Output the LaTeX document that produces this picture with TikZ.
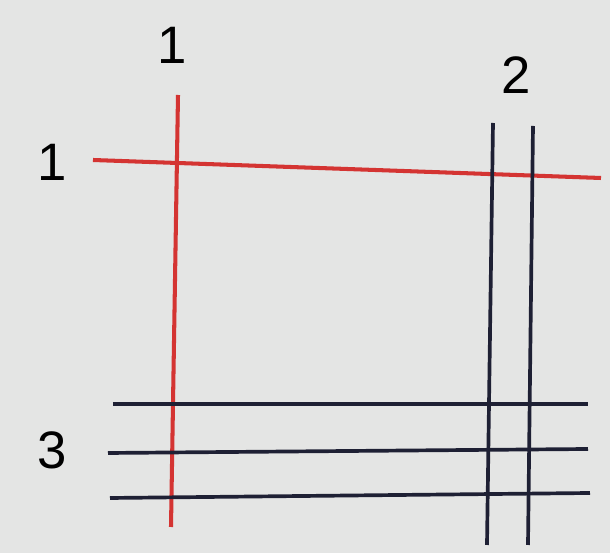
\documentclass[tikz,border=0pt]{standalone}
\usepackage{fontspec}
\setmainfont{Liberation Sans}
\definecolor{photobg}{RGB}{228,229,228}
\definecolor{redline}{RGB}{212,52,50}
\definecolor{darkline}{RGB}{30,32,52}
\begin{document}
\begin{tikzpicture}[x=0.02cm, y=-0.02cm,
  redl/.style={draw=redline, line width=2.3pt},
  darkl/.style={draw=darkline, line width=2.1pt},
  num/.style={font=\fontsize{30}{36}\selectfont, text=black, inner sep=0pt}]
  \fill[photobg] (0,0) rectangle (610,553);
  \useasboundingbox (0,0) rectangle (610,553);
  % red lines
  \draw[redl] (178,95) -- (171,527);
  \draw[redl] (93,160) -- (601,178);
  % vertical dark lines
  \draw[darkl] (493,123) -- (487,545);
  \draw[darkl] (533,126) -- (528,545);
  % horizontal dark lines
  \draw[darkl] (113,404) -- (588,404);
  \draw[darkl] (108,453) -- (588,449);
  \draw[darkl] (110,498) -- (590,493);
  % labels
  \node[num] (ltop) at (172,45) {1};
  \node[num] (lleft) at (52,162) {1};
  \node[num] (ltwo) at (516,75) {2};
  \node[num] (lthree) at (52,450) {3};
\end{tikzpicture}
\end{document}
